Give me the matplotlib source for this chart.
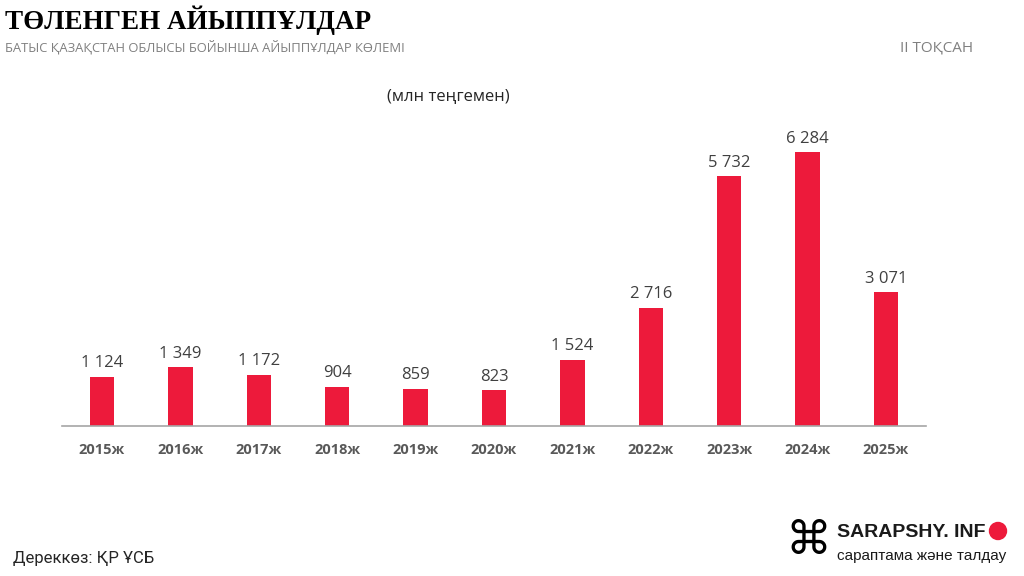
import matplotlib
matplotlib.use("Agg")
import matplotlib.pyplot as plt
from matplotlib.patches import Ellipse

years = ["2015ж", "2016ж", "2017ж", "2018ж", "2019ж", "2020ж", "2021ж", "2022ж", "2023ж", "2024ж", "2025ж"]
values = [1124, 1349, 1172, 904, 859, 823, 1524, 2716, 5732, 6284, 3071]
value_labels = ["1 124", "1 349", "1 172", "904", "859", "823", "1 524", "2 716", "5 732", "6 284", "3 071"]

title = "ТӨЛЕНГЕН АЙЫППҰЛДАР"
subtitle = "БАТЫС ҚАЗАҚСТАН ОБЛЫСЫ БОЙЫНША АЙЫППҰЛДАР КӨЛЕМІ"
period = "II ТОҚСАН"
unit = "(млн теңгемен)"
source = "Дереккөз: ҚР ҰСБ"

W, H = 1024, 576
fig = plt.figure(figsize=(W / 100, H / 100), dpi=100)
fig.patch.set_facecolor("white")

ax = fig.add_axes([62 / W, 1 - 426 / H, (926 - 62) / W, (426 - 100) / H])
x = list(range(len(years)))
ax.bar(x, values, width=0.31, color="#ED1A3B", zorder=2)
ax.set_xlim(-0.51, len(years) - 0.49)
ax.set_ylim(0, 7480)
for xi, v, lab in zip(x, values, value_labels):
    ax.annotate(lab, (xi, v), xytext=(0, 4), textcoords="offset points",
                ha="center", va="bottom", fontsize=12, color="#404040",
                family=["Open Sans", "DejaVu Sans"])
ax.set_xticks(x)
ax.set_xticklabels(years, fontsize=10.5, fontweight="bold", color="#595959",
                   family=["Open Sans", "DejaVu Sans"])
ax.tick_params(axis="x", length=0, pad=12)
ax.set_yticks([])
for s in ["top", "right", "left"]:
    ax.spines[s].set_visible(False)
ax.spines["bottom"].set_color("#A6A6A6")
ax.spines["bottom"].set_linewidth(1.2)

fig.text(5 / W, 1 - 29 / H, title, fontsize=19.5, fontweight="bold",
         family=["Liberation Serif", "DejaVu Serif"], color="black", va="baseline")
fig.text(5 / W, 1 - 51 / H, subtitle, fontsize=9.4, color="#808080",
         family=["Open Sans", "DejaVu Sans"], va="baseline")
fig.text(937 / W, 1 - 52 / H, period, fontsize=11, color="#808080",
         family=["Open Sans", "DejaVu Sans"], va="baseline", ha="center")
fig.text(448 / W, 1 - 101 / H, unit, fontsize=12, color="#262626",
         family=["Open Sans", "DejaVu Sans"], va="baseline", ha="center")
fig.text(13 / W, 1 - 563 / H, source, fontsize=12, color="#262626",
         family=["Roboto", "DejaVu Sans"], va="baseline")

# logo
fig.text(837 / W, 1 - 537 / H, "SARAPSHY. INF", fontsize=14, fontweight="bold",
         family=["Liberation Sans", "DejaVu Sans"], color="#1a1a1a", va="baseline")
fig.add_artist(Ellipse((998 / W, 1 - 531 / H), 17 / W, 17 / H, transform=fig.transFigure,
                       color="#ED1A3B"))
fig.text(837 / W, 1 - 560 / H, "сараптама және талдау", fontsize=11,
         family=["Liberation Sans", "DejaVu Sans"], color="#1a1a1a", va="baseline")
fig.text(808 / W, 1 - 542 / H, "⌘", fontsize=33, ha="center", va="center",
         family=["DejaVu Sans"], color="black")

fig.savefig("out.png", dpi=100, facecolor="white")
